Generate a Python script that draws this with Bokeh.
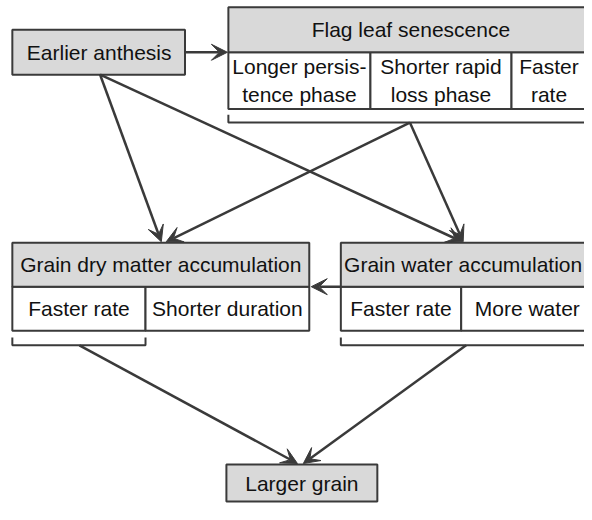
from bokeh.plotting import figure
from bokeh.models import Range1d, Arrow, VeeHead
from bokeh.core.properties import value
from bokeh.embed import file_html
from bokeh.resources import INLINE

# ---- content (texts of the diagram) ----
header_labels = ["Earlier anthesis", "Flag leaf senescence",
                 "Grain dry matter accumulation", "Grain water accumulation",
                 "Larger grain"]
flag_cells = ["Longer persis-\ntence phase", "Shorter rapid\nloss phase", "Faster\nrate"]
dry_cells = ["Faster rate", "Shorter duration"]
water_cells = ["Faster rate", "More water"]

# ---- layout (picture pixel coordinates) ----
hdr_left = [12, 231, 12, 345, 229]
hdr_right = [187, 601, 313, 603, 382]
hdr_top = [30, 7, 248, 248, 475]
hdr_bottom = [76, 53, 293, 293, 513]
hdr_text_x = [100, 416, 162.5, 469, 305.5]
hdr_text_y = [53, 30, 270.5, 270.5, 494]

cell_left = [231, 375, 518, 12, 147, 345, 467]
cell_right = [375, 518, 601, 147, 313, 467, 603]
cell_top = [53, 53, 53, 293, 293, 293, 293]
cell_bottom = [111, 111, 111, 338, 338, 338, 338]
cell_text_x = [303, 446.5, 556, 79.5, 230, 406, 534]
cell_labels = flag_cells + dry_cells + water_cells

# brackets (x list, y list)
brackets_x = [[231, 231, 600], [12, 12, 147, 147], [345, 345, 600]]
brackets_y = [[117, 125, 125], [345, 353, 353, 345], [345, 353, 353]]

# arrows: (x0, y0, x1, y1)
arrows = [
    (187, 53, 230, 53),
    (101, 76, 163, 247),
    (101, 76, 468, 247),
    (415, 125, 168, 247),
    (415, 125, 469, 247),
    (345, 293, 315, 293),
    (80, 353, 301, 474),
    (472, 353, 307, 474),
]

LINE = "#3a3a3a"
FILL = "#d9d9d9"
TEXT = "#111111"
FONT = "Liberation Sans"

p = figure(width=584, height=504, x_range=Range1d(0, 592), y_range=Range1d(516, 0),
           output_backend="svg", toolbar_location=None, min_border=0)
p.axis.visible = False
p.grid.visible = False
p.outline_line_color = None
p.background_fill_color = "white"
p.border_fill_color = "white"

# white cells
p.quad(left=cell_left, right=cell_right, top=cell_top, bottom=cell_bottom,
       fill_color="white", line_color=LINE, line_width=2)
# gray header boxes
p.quad(left=hdr_left, right=hdr_right, top=hdr_top, bottom=hdr_bottom,
       fill_color=FILL, line_color=LINE, line_width=2)

# brackets
p.multi_line(xs=brackets_x, ys=brackets_y, line_color=LINE, line_width=2)

# arrows
for x0, y0, x1, y1 in arrows:
    p.add_layout(Arrow(x_start=x0, y_start=y0, x_end=x1, y_end=y1,
                       line_color=LINE, line_width=2.5,
                       end=VeeHead(size=16, fill_color=LINE, line_color=LINE, line_width=1)))

# header texts
p.text(x=hdr_text_x, y=hdr_text_y, text=header_labels, text_align="center",
       text_baseline="middle", text_font=value(FONT), text_font_size="21px",
       text_color=TEXT)

# cell texts
cy = [(t + b) / 2 for t, b in zip(cell_top, cell_bottom)]
p.text(x=cell_text_x, y=cy, text=cell_labels, text_align="center", text_baseline="middle",
       text_font=value(FONT), text_font_size="21px", text_color=TEXT,
       text_line_height=1.2)

open("out.html", "w").write(file_html(p, INLINE))
